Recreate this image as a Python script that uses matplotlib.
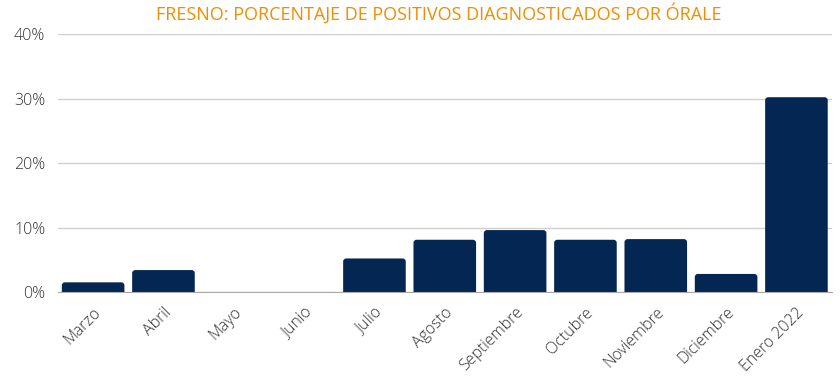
import matplotlib
matplotlib.use("Agg")
from matplotlib import pyplot as plt
from matplotlib.patches import FancyBboxPatch
from matplotlib.ticker import FuncFormatter

meses = ['Marzo', 'Abril', 'Mayo', 'Junio', 'Julio', 'Agosto', 'Septiembre',
         'Octubre', 'Noviembre', 'Diciembre', 'Enero 2022']
porcentajes = [1.5, 3.4, 0, 0, 5.2, 8.1, 9.6, 8.1, 8.2, 2.8, 30.2]

azul = '#032752'
plt.rcParams['font.family'] = ['Open Sans', 'DejaVu Sans']

fig = plt.figure(figsize=(8.4, 3.78), dpi=100)
ax = fig.add_axes([0.069, 0.2275, 0.921, 0.6825])

barras = ax.bar(range(len(meses)), porcentajes, width=0.89, color=azul, zorder=3)

# esquinas superiores redondeadas (la parte de abajo queda recortada por el eje)
for b in barras:
    x, w, h = b.get_x(), b.get_width(), b.get_height()
    if h <= 0:
        continue
    b.set_visible(False)
    ax.add_patch(FancyBboxPatch((x, -1), w, h + 1, boxstyle='round,pad=0,rounding_size=0.045',
                                mutation_aspect=10.5, facecolor=azul, edgecolor='none',
                                zorder=3))

ax.set_ylim(0, 40)
ax.set_xlim(-0.5, len(meses) - 0.5)
ax.set_yticks([0, 10, 20, 30, 40])
ax.yaxis.set_major_formatter(FuncFormatter(lambda v, p: f'{int(v)}%'))
ax.set_xticks(range(len(meses)))
ax.set_xticklabels(meses, rotation=45, ha='right', rotation_mode='anchor')
ax.tick_params(axis='both', length=0, labelsize=11.5, colors='#333333')
ax.tick_params(axis='x', pad=9)
ax.tick_params(axis='y', pad=9)
for lbl in ax.get_xticklabels() + ax.get_yticklabels():
    lbl.set_fontweight('light')
ax.grid(axis='y', color='#d0d0d0', linewidth=1, zorder=0)
for s in ['top', 'right', 'left']:
    ax.spines[s].set_visible(False)
ax.spines['bottom'].set_color('#aaaaaa')
ax.spines['bottom'].set_zorder(4)

fig.text(0.522, 0.965, 'FRESNO: PORCENTAJE DE POSITIVOS DIAGNOSTICADOS POR ÓRALE',
         ha='center', va='center', color='#F28C00', fontsize=13)

fig.savefig('out.png', dpi=100)
